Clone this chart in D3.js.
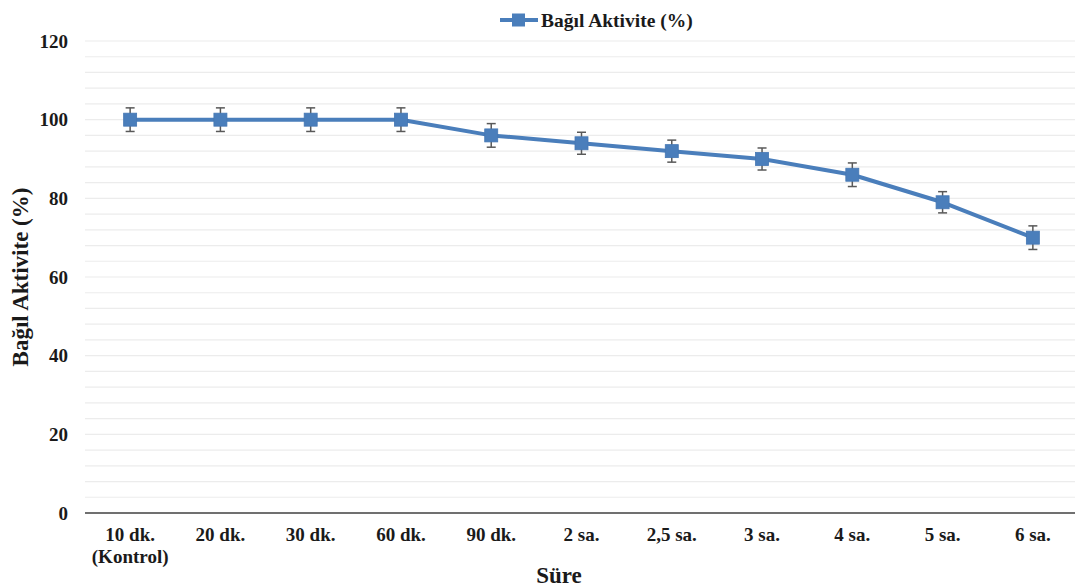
<!DOCTYPE html>
<html>
<head>
<meta charset="utf-8">
<script src="https://cdn.jsdelivr.net/npm/d3@7"></script>
<style>
  html, body { margin: 0; padding: 0; background: #fff; }
  svg { display: block; font-family: "Liberation Serif", "Times New Roman", serif; }
</style>
</head>
<body>
<svg id="chart" width="1075" height="588"></svg>
<script>
// Time points (first one is the control)
const categories = ["10 dk.|(Kontrol)", "20 dk.", "30 dk.", "60 dk.", "90 dk.", "2 sa.", "2,5 sa.", "3 sa.", "4 sa.", "5 sa.", "6 sa."];
// Relative activity (%)
const activity = [100, 100, 100, 100, 96, 94, 92, 90, 86, 79, 70];
// Error (± %)
const errors = [3, 3, 3, 3, 3, 2.8, 2.8, 2.8, 3, 2.7, 3];
const yTicks = [0, 20, 40, 60, 80, 100, 120];
const seriesName = "Bağıl Aktivite (%)";

const svg = d3.select("#chart");
const margin = { left: 85, right: -3, top: 41, bottom: 75 };
const W = 1075, H = 588;

const x = d3.scaleBand().domain(categories).range([margin.left, W - margin.right]);
const y = d3.scaleLinear().domain([0, 120]).range([H - margin.bottom, margin.top]);
const cx = d => x(d) + x.bandwidth() / 2;

const blue = "#4a7ebb";
const ink = "#1a1a1a";

// Gridlines every 4 units
svg.append("g").selectAll("line")
  .data(d3.range(4, 121, 4))
  .join("line")
  .attr("x1", margin.left).attr("x2", W)
  .attr("y1", d => y(d)).attr("y2", d => y(d))
  .attr("stroke", "#ececec").attr("stroke-width", 1.2);

// Y axis labels
const yAxis = d3.axisLeft(y).tickValues(yTicks).tickSize(0).tickPadding(17);
svg.append("g")
  .attr("transform", `translate(${margin.left},0)`)
  .call(yAxis)
  .call(g => g.select(".domain").remove())
  .call(g => g.selectAll("text")
    .attr("font-family", "Liberation Serif, serif")
    .attr("font-weight", "bold").attr("font-size", 19).attr("fill", ink));

// Baseline
svg.append("line")
  .attr("x1", margin.left).attr("x2", W)
  .attr("y1", y(0)).attr("y2", y(0))
  .attr("stroke", "#404040").attr("stroke-width", 1.6);

// X axis labels (multi-line)
const xAxis = d3.axisBottom(x).tickSize(0).tickPadding(0).tickFormat(() => "");
const gx = svg.append("g")
  .attr("transform", `translate(0,${y(0)})`)
  .call(xAxis)
  .call(g => g.select(".domain").remove());
gx.selectAll(".tick").each(function(d) {
  const t = d3.select(this).select("text")
    .attr("y", 0).attr("dy", null)
    .attr("font-family", "Liberation Serif, serif")
    .attr("font-weight", "bold").attr("font-size", 19).attr("fill", ink);
  d.split("|").forEach((line, i) => {
    t.append("tspan").attr("x", 0).attr("y", 28 + i * 22).text(line);
  });
});

// Axis titles
svg.append("text")
  .attr("transform", `translate(28,${(y(0) + y(120)) / 2}) rotate(-90)`)
  .attr("text-anchor", "middle")
  .attr("font-weight", "bold").attr("font-size", 23).attr("fill", ink)
  .text("Bağıl Aktivite (%)");
svg.append("text")
  .attr("x", 559).attr("y", 583)
  .attr("text-anchor", "middle")
  .attr("font-weight", "bold").attr("font-size", 23).attr("fill", ink)
  .text("Süre");

// Series line
const data = categories.map((c, i) => ({ c, v: activity[i], e: errors[i] }));
svg.append("path")
  .datum(data)
  .attr("fill", "none").attr("stroke", blue).attr("stroke-width", 4)
  .attr("stroke-linejoin", "round")
  .attr("d", d3.line().x(d => cx(d.c)).y(d => y(d.v)));

// Error bars
const eb = svg.append("g").attr("stroke", "#595959").attr("stroke-width", 1.5);
eb.selectAll("line.v").data(data).join("line").attr("class", "v")
  .attr("x1", d => cx(d.c)).attr("x2", d => cx(d.c))
  .attr("y1", d => y(d.v + d.e)).attr("y2", d => y(d.v - d.e));
eb.selectAll("line.t").data(data).join("line").attr("class", "t")
  .attr("x1", d => cx(d.c) - 4.5).attr("x2", d => cx(d.c) + 4.5)
  .attr("y1", d => y(d.v + d.e)).attr("y2", d => y(d.v + d.e));
eb.selectAll("line.b").data(data).join("line").attr("class", "b")
  .attr("x1", d => cx(d.c) - 4.5).attr("x2", d => cx(d.c) + 4.5)
  .attr("y1", d => y(d.v - d.e)).attr("y2", d => y(d.v - d.e));

// Square markers
svg.append("g").selectAll("rect").data(data).join("rect")
  .attr("x", d => cx(d.c) - 6.5).attr("y", d => y(d.v) - 6.5)
  .attr("width", 13).attr("height", 13)
  .attr("fill", blue).attr("stroke", "#4577b3").attr("stroke-width", 0.8);

// Legend
const lg = svg.append("g").attr("transform", "translate(500,20)");
lg.append("line").attr("x1", 0).attr("x2", 38).attr("y1", 0).attr("y2", 0)
  .attr("stroke", blue).attr("stroke-width", 4);
lg.append("rect").attr("x", 12).attr("y", -6.5).attr("width", 13).attr("height", 13)
  .attr("fill", blue);
lg.append("text").attr("x", 41).attr("y", 7)
  .attr("font-weight", "bold").attr("font-size", 19.5).attr("fill", ink)
  .text(seriesName);
</script>
</body>
</html>
